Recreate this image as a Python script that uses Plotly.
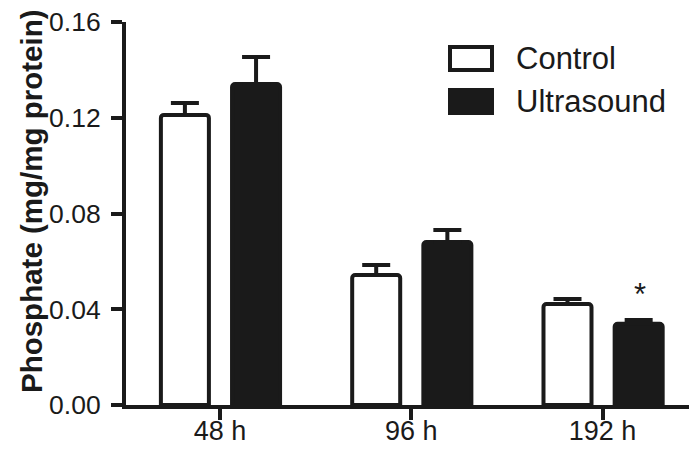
import plotly.graph_objects as go

categories = ["48 h", "96 h", "192 h"]
control = [0.1212, 0.0543, 0.0422]
control_err = [0.0050, 0.0042, 0.0021]
ultrasound = [0.1341, 0.0681, 0.0339]
ultrasound_err = [0.0113, 0.0050, 0.0016]
y_ticks = [0.00, 0.04, 0.08, 0.12, 0.16]
significance = ["", "", "*"]
y_title = "Phosphate (mg/mg protein)"

W, H = 689, 450
L, R, T, B = 126, 0, 22, 45
pw, ph = W - L - R, H - T - B
ppu = 191.3
x0 = -(220 - L) / ppu
x1 = (W - R - 220) / ppu

INK = "#1a1a1a"
FONT = "Arial, Liberation Sans, sans-serif"
xs = list(range(len(categories)))

fig = go.Figure()
fig.add_trace(go.Bar(
    x=xs, y=control, name="Control", width=0.251, offset=-0.309,
    marker=dict(color="white", line=dict(color=INK, width=4), cornerradius=3),
    error_y=dict(type="data", array=control_err, arrayminus=[0]*3, symmetric=False,
                 color=INK, thickness=4, width=14),
    showlegend=False))
fig.add_trace(go.Bar(
    x=xs, y=ultrasound, name="Ultrasound", width=0.251, offset=0.063,
    marker=dict(color=INK, line=dict(color=INK, width=4), cornerradius=3),
    error_y=dict(type="data", array=ultrasound_err, arrayminus=[0]*3, symmetric=False,
                 color=INK, thickness=4, width=14),
    showlegend=False))

for i, s in enumerate(significance):
    if s:
        fig.add_annotation(x=i + 0.195, y=ultrasound[i] + ultrasound_err[i], text=s,
                           showarrow=False, yanchor="bottom", yshift=6,
                           font=dict(family=FONT, size=31, color=INK))

def px2x(p):
    return (p - L) / pw

def px2y(p):
    return (H - B - p) / ph

legend_items = [("Control", "white", 47, 70), ("Ultrasound", INK, 90, 113)]
for name, fill, ya, yb in legend_items:
    fig.add_shape(type="rect", xref="paper", yref="paper",
                  x0=px2x(450), x1=px2x(492), y0=px2y(yb), y1=px2y(ya),
                  fillcolor=fill, line=dict(color=INK, width=4))
    fig.add_annotation(xref="paper", yref="paper", x=px2x(514), y=px2y((ya + yb) / 2),
                       text=name, showarrow=False, xanchor="left", yanchor="middle",
                       font=dict(family=FONT, size=31, color=INK))

# y-axis title as rotated annotation
fig.add_annotation(xref="paper", yref="paper", x=px2x(31), y=px2y(201),
                   text="<b>" + y_title + "</b>", textangle=-90, showarrow=False,
                   xanchor="center", yanchor="middle",
                   font=dict(family=FONT, size=29.5, color=INK))

fig.update_layout(
    width=W, height=H,
    margin=dict(l=L, r=R, t=T, b=B, pad=0),
    plot_bgcolor="white", paper_bgcolor="white",
    barmode="overlay",
    font=dict(family=FONT, color=INK),
)
fig.update_xaxes(
    range=[x0, x1], tickvals=xs, ticktext=categories, automargin=False,
    showline=True, linecolor=INK, linewidth=4, showgrid=False, zeroline=False,
    ticks="outside", ticklen=11, tickwidth=4, tickcolor=INK,
    ticklabelstandoff=-12,
    tickfont=dict(family=FONT, size=27, color=INK),
)
fig.update_yaxes(
    range=[0, 0.16], tickvals=y_ticks, tickformat=".2f", automargin=False,
    showline=True, linecolor=INK, linewidth=4, showgrid=False, zeroline=False,
    ticks="outside", ticklen=11, tickwidth=4, tickcolor=INK,
    ticklabelstandoff=5,
    tickfont=dict(family=FONT, size=26.5, color=INK),
)

fig.write_html("out.html", config={"displayModeBar": False},
               post_script="document.body.style.margin='0';document.body.style.overflow='hidden';")
